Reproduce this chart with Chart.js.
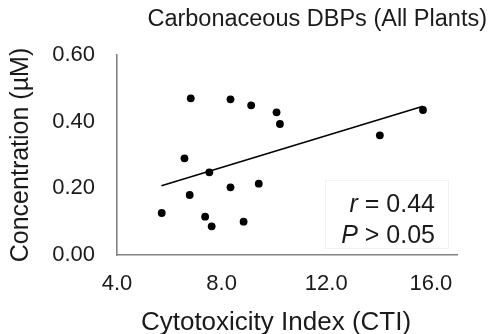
<!DOCTYPE html>
<html>
<head>
<meta charset="utf-8">
<script src="https://cdn.jsdelivr.net/npm/chart.js@4"></script>
<style>
  html, body { margin: 0; padding: 0; background: #ffffff; }
  #wrap { width: 490px; height: 334px; position: relative; }
</style>
</head>
<body>
<div id="wrap"><canvas id="c" width="490" height="334"></canvas></div>
<script>
// ---- data ----
const ctiValues = [6.82, 8.34, 9.13, 10.10, 10.23, 6.58, 7.53, 8.34, 9.42, 6.78, 5.71, 7.37, 7.62, 8.84, 14.05, 15.70];
const concValues = [0.470, 0.467, 0.449, 0.428, 0.393, 0.290, 0.248, 0.203, 0.214, 0.180, 0.126, 0.115, 0.086, 0.100, 0.359, 0.435];
const trendX = [5.70, 15.70];
const trendY = [0.208, 0.446];
const xTickValues = [4, 8, 12, 16];
const xTickLabels = ['4.0', '8.0', '12.0', '16.0'];
const yTickValues = [0, 0.2, 0.4, 0.6];
const yTickLabels = ['0.00', '0.20', '0.40', '0.60'];
const chartTitle = 'Carbonaceous DBPs (All Plants)';
const xTitle = 'Cytotoxicity Index (CTI)';
const yTitle = 'Concentration (\u00B5M)';
const statR = '0.44';
const statP = '0.05';

const FONT = "'Liberation Sans', Arial, Helvetica, sans-serif";
const TEXT = '#1a1a1a';
const AXIS = '#828282';

const points = ctiValues.map((x, i) => ({ x: x, y: concValues[i] }));
const trend = trendX.map((x, i) => ({ x: x, y: trendY[i] }));

const overlay = {
  id: 'overlay',
  afterDraw(chart) {
    const ctx = chart.ctx;
    const a = chart.chartArea;
    ctx.save();
    // x axis title
    ctx.fillStyle = TEXT;
    ctx.font = '26px ' + FONT;
    ctx.textAlign = 'center';
    ctx.textBaseline = 'alphabetic';
    ctx.fillText(xTitle, (a.left + a.right) / 2 - 11, 330);

    // faint text box
    ctx.strokeStyle = '#f2f2f2';
    ctx.lineWidth = 1;
    ctx.strokeRect(325.5, 180.5, 123, 68);

    // statistics text, right aligned
    const right = a.right - 22;
    const size = 25;
    function line(ital, rest, baseline) {
      ctx.font = 'italic ' + size + 'px ' + FONT;
      const w1 = ctx.measureText(ital).width;
      ctx.font = size + 'px ' + FONT;
      const w2 = ctx.measureText(rest).width;
      const x0 = right - w1 - w2;
      ctx.textAlign = 'left';
      ctx.font = 'italic ' + size + 'px ' + FONT;
      ctx.fillText(ital, x0, baseline);
      ctx.font = size + 'px ' + FONT;
      ctx.fillText(rest, x0 + w1, baseline);
    }
    line('r', ' = ' + statR, 212);
    line('P', ' > ' + statP, 243);
    ctx.restore();
  }
};

new Chart(document.getElementById('c'), {
  type: 'scatter',
  data: {
    datasets: [
      {
        type: 'line',
        data: trend,
        borderColor: '#000000',
        borderWidth: 1.6,
        pointRadius: 0,
        fill: false,
        order: 2
      },
      {
        data: points,
        backgroundColor: '#000000',
        borderColor: '#000000',
        pointRadius: 3.9,
        pointBorderWidth: 0,
        order: 1
      }
    ]
  },
  options: {
    responsive: false,
    animation: false,
    devicePixelRatio: 1,
    layout: { padding: { left: 0, right: 3, top: 0, bottom: 0 } },
    plugins: {
      legend: { display: false },
      tooltip: { enabled: false },
      title: {
        display: true,
        text: chartTitle,
        align: 'end',
        color: TEXT,
        font: { family: FONT, size: 23.5, weight: 'normal' },
        padding: { top: 5.6, bottom: 21.2 }
      }
    },
    scales: {
      x: {
        type: 'linear',
        min: 4,
        max: 17,
        grid: { display: false, drawTicks: false },
        border: { display: true, color: AXIS, width: 1.6 },
        afterBuildTicks(scale) { scale.ticks = xTickValues.map(v => ({ value: v })); },
        ticks: {
          includeBounds: false,
          color: TEXT,
          font: { family: FONT, size: 22 },
          padding: 16,
          maxRotation: 0,
          callback: (v) => xTickLabels[xTickValues.indexOf(v)]
        },
        afterFit(scale) { scale.height = 79; scale.paddingRight = 33; }
      },
      y: {
        type: 'linear',
        min: 0,
        max: 0.6,
        grid: { display: false, drawTicks: false },
        border: { display: true, color: AXIS, width: 1.6 },
        afterBuildTicks(scale) { scale.ticks = yTickValues.map(v => ({ value: v })); },
        ticks: {
          color: TEXT,
          font: { family: FONT, size: 22 },
          padding: 22,
          callback: (v) => yTickLabels[yTickValues.indexOf(v)]
        },
        title: {
          display: true,
          text: yTitle,
          color: TEXT,
          font: { family: FONT, size: 25 },
          padding: { top: 6.5, bottom: 0 }
        },
        afterFit(scale) { scale.width = 117; }
      }
    }
  },
  plugins: [overlay]
});
</script>
</body>
</html>
